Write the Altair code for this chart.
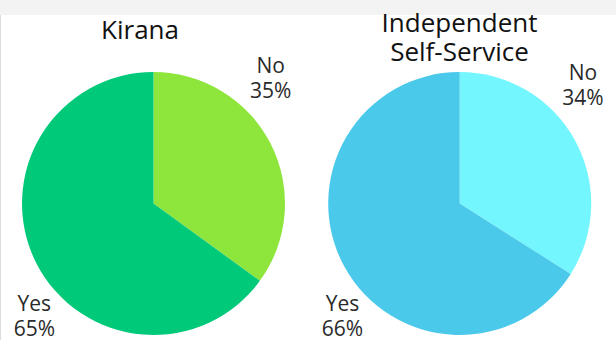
import altair as alt
import pandas as pd

stores = ["Kirana", "Kirana", "Independent Self-Service", "Independent Self-Service"]
answers = ["No", "Yes", "No", "Yes"]
values = [35, 65, 34, 66]
slice_keys = ["Kirana No", "Kirana Yes", "ISS No", "ISS Yes"]
slice_colors = ["#8ee63c", "#00c97a", "#74f6fe", "#4bc9eb"]

df = pd.DataFrame({"store": stores, "answer": answers, "value": values,
                   "key": slice_keys, "ord": [0, 1, 0, 1]})

FONT = "Open Sans"
W, H = 616, 340
R = 131.5
centers = {"Kirana": (153.5, 203.5), "Independent Self-Service": (459.7, 203.5)}

color = alt.Color("key:N", scale=alt.Scale(domain=slice_keys, range=slice_colors), legend=None)
theta_scale = alt.Scale(domain=[0, 100])

base = alt.Chart(df)

band = base.mark_rect(color="#f3f3f3").encode(
    x=alt.value(0), x2=alt.value(W), y=alt.value(0), y2=alt.value(15)
).transform_filter(alt.datum.ord == 0).transform_filter(alt.datum.store == "Kirana")

layers = [band]

label_offsets = {
    ("Kirana", "No"): (0, -77),
    ("Kirana", "Yes"): (-2, 42),
    ("Independent Self-Service", "No"): (8, -66),
    ("Independent Self-Service", "Yes"): (-2, 38),
}

for store, (cx, cy) in centers.items():
    pie = base.transform_filter(alt.datum.store == store)
    arc = pie.mark_arc(stroke=None).encode(
        theta=alt.Theta("value:Q", stack=True, scale=theta_scale),
        order=alt.Order("ord:Q"),
        color=color,
        x=alt.value(cx), y=alt.value(cy), radius=alt.value(R),
    )
    layers.append(arc)
    for ans in ["No", "Yes"]:
        dx, dy = label_offsets[(store, ans)]
        txt = pie.transform_calculate(
            label=alt.datum.answer + "\n" + alt.datum.value + "%"
        ).transform_stack(
            stack="value", groupby=[], as_=["v0", "v1"],
            sort=[alt.SortField("ord", order="ascending")],
        ).transform_calculate(
            mid="(datum.v0 + datum.v1) / 2"
        ).transform_filter(alt.datum.answer == ans).mark_text(
            font=FONT, fontSize=21, color="#2a2a2a", lineBreak="\n",
            lineHeight=25, align="center", baseline="middle", dx=dx, dy=dy,
        ).encode(
            theta=alt.Theta("mid:Q", scale=theta_scale),
            text="label:N",
            x=alt.value(cx), y=alt.value(cy), radius=alt.value(R),
        )
        layers.append(txt)

title_df = pd.DataFrame({"t": ["Kirana", "Independent\nSelf-Service"], "store": ["Kirana", "Independent Self-Service"]})
t1 = alt.Chart(title_df).transform_filter(alt.datum.store == "Kirana").mark_text(
    font=FONT, fontSize=26, fontWeight=500, color="#111111", align="center", baseline="middle"
).encode(text="t:N", x=alt.value(140), y=alt.value(30.5))
t2 = alt.Chart(title_df).transform_filter(alt.datum.store != "Kirana").mark_text(
    font=FONT, fontSize=26, fontWeight=500, color="#111111", align="center", baseline="middle",
    lineBreak="\n", lineHeight=29
).encode(text="t:N", x=alt.value(459.5), y=alt.value(23.5))
layers += [t1, t2]

chart = alt.layer(*layers).properties(
    width=W, height=H, padding=0, autosize=alt.AutoSizeParams(type="none")
).configure_view(stroke=None).configure(background="white")

chart.save("out.html", embed_options={"renderer": "svg", "actions": False})
